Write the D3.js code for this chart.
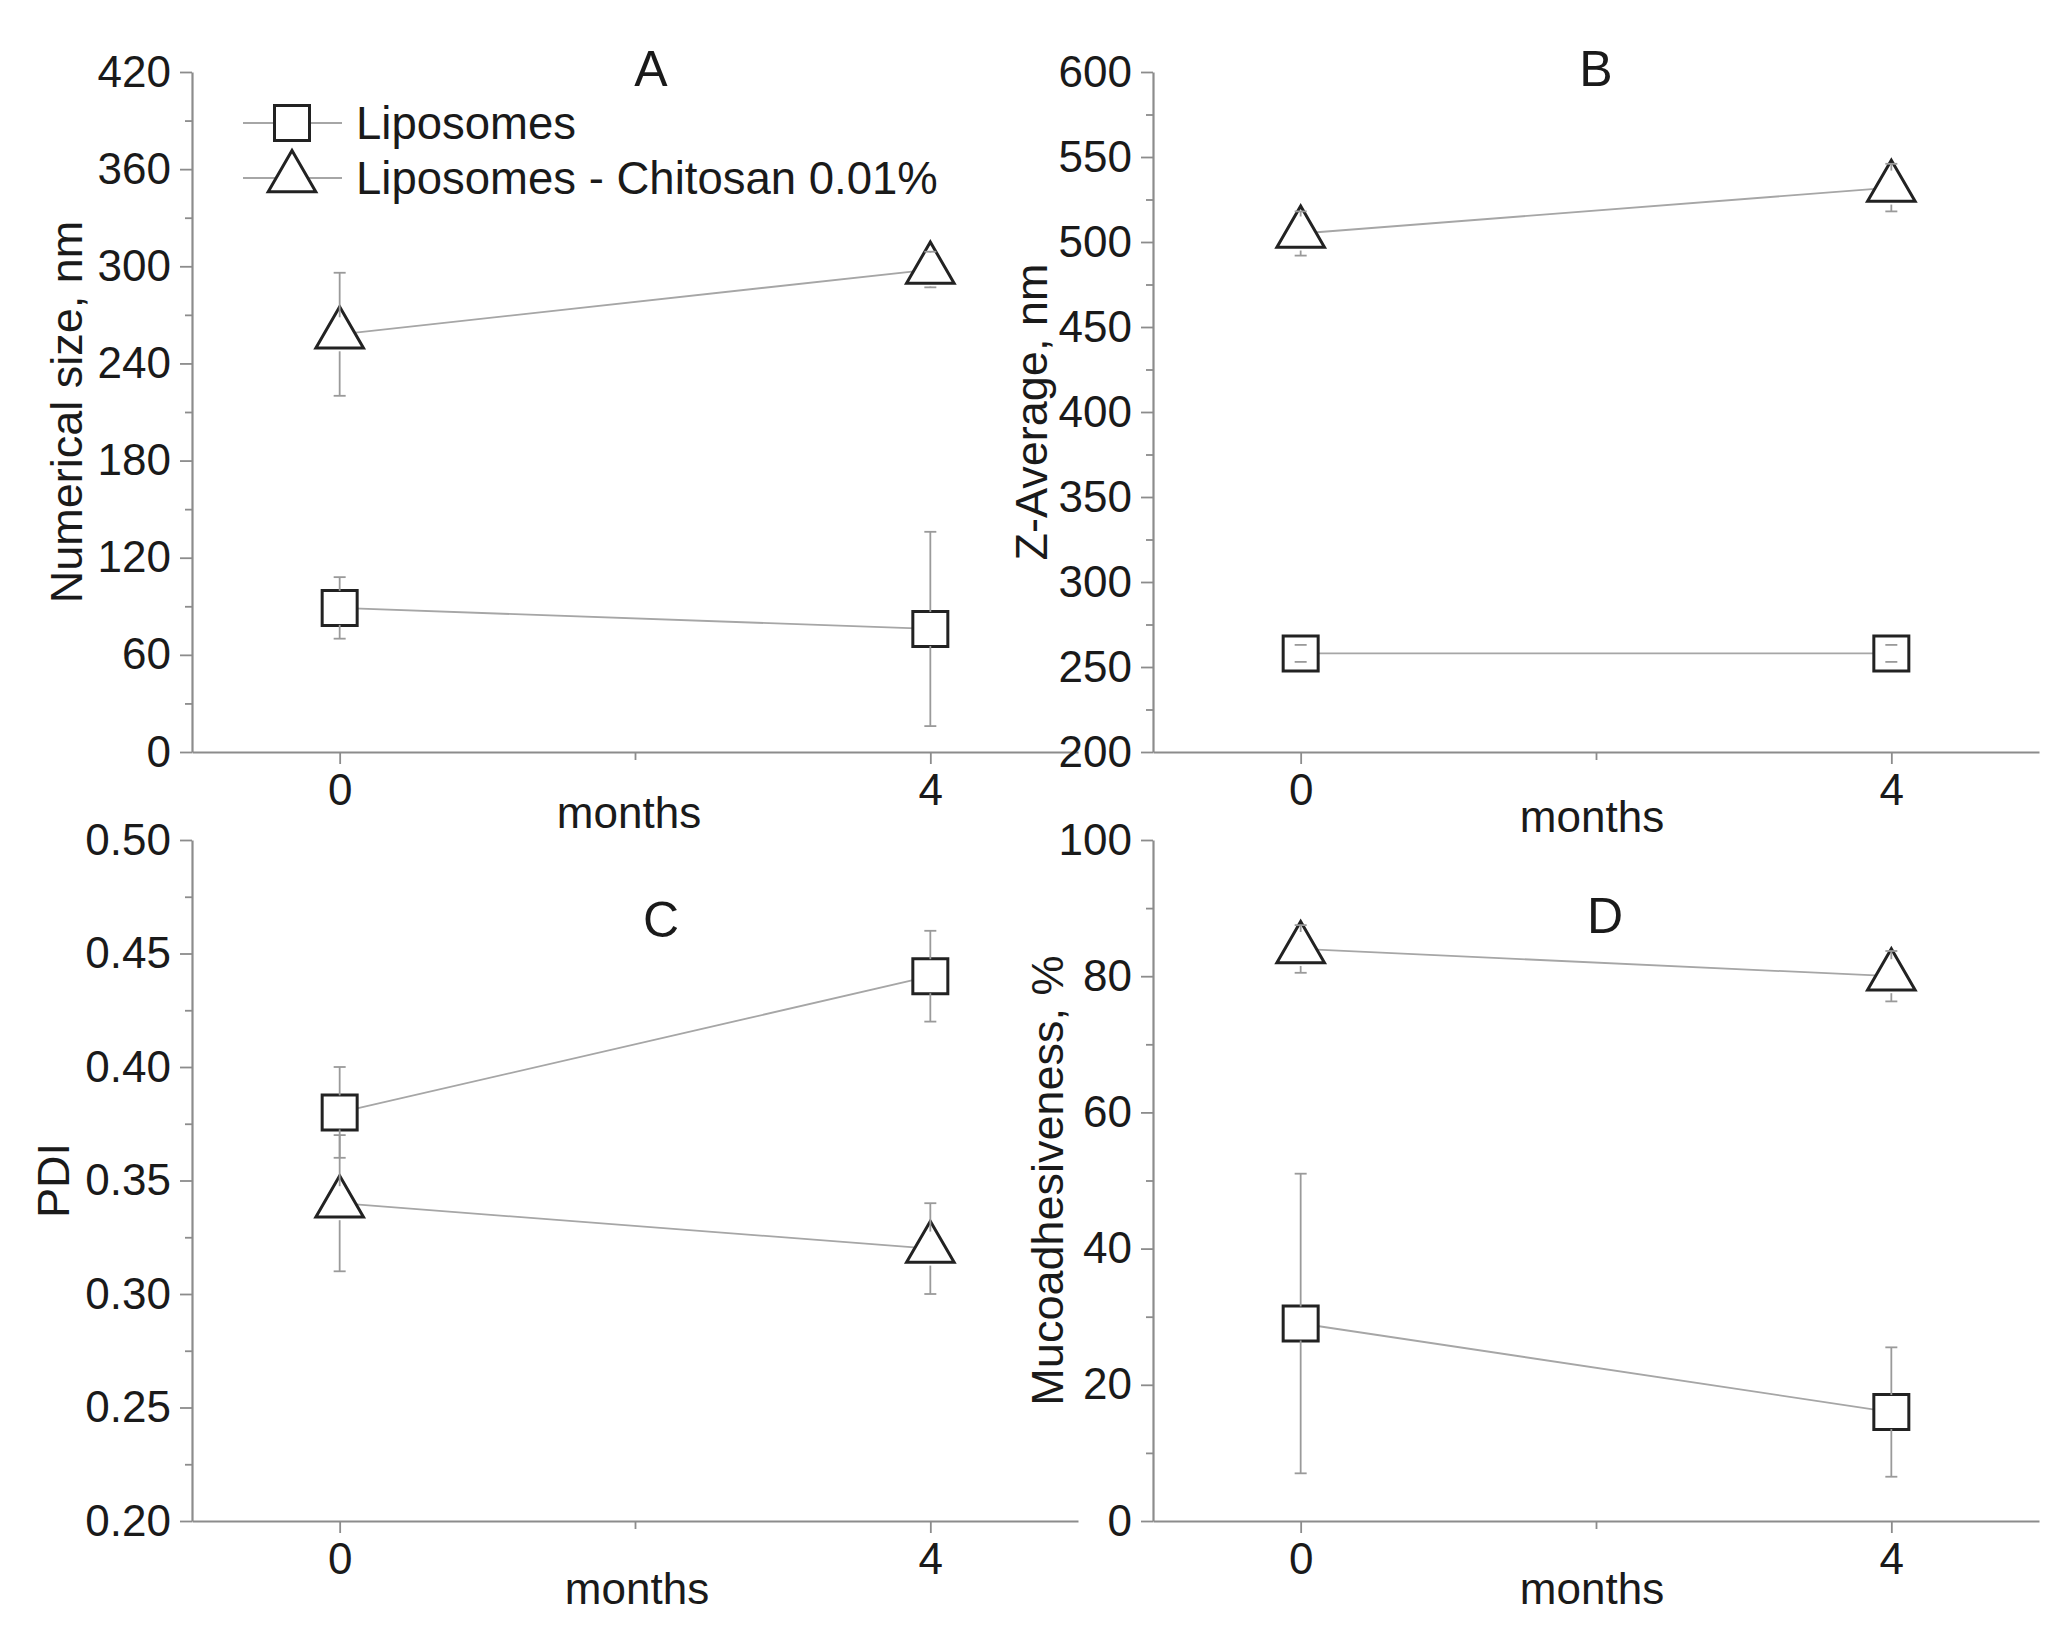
<!DOCTYPE html>
<html>
<head>
<meta charset="utf-8">
<script src="https://cdn.jsdelivr.net/npm/d3@7"></script>
<style>
  html, body { margin: 0; padding: 0; background: #fff; }
  svg text { font-family: "Liberation Sans", Arial, sans-serif; fill: #1a1a1a; }
</style>
</head>
<body>
<div id="chart"></div>
<script>
// x values (months) and series
const months = [0, 4];
const seriesNames = ['Liposomes', 'Liposomes - Chitosan 0.01%'];

const sizeLipo = [89, 76],      sizeLipoErr = [19, 60];
const sizeChito = [258, 298],   sizeChitoErr = [38, 11];
const zLipo = [258, 258],       zLipoErr = [5, 5];
const zChito = [505, 532],      zChitoErr = [13, 14];
const pdiLipo = [0.38, 0.44],   pdiLipoErr = [0.02, 0.02];
const pdiChito = [0.34, 0.32],  pdiChitoErr = [0.03, 0.02];
const mucoLipo = [29, 16],      mucoLipoErr = [22, 9.5];
const mucoChito = [84, 80],     mucoChitoErr = [3.5, 3.7];

const sizeTicks = [0, 60, 120, 180, 240, 300, 360, 420];
const zTicks = [200, 250, 300, 350, 400, 450, 500, 550, 600];
const pdiTicks = [0.20, 0.25, 0.30, 0.35, 0.40, 0.45, 0.50];
const mucoTicks = [0, 20, 40, 60, 80, 100];
const monthTicks = [0, 4];

const W = 2071, H = 1638;
const svg = d3.select('#chart').append('svg').attr('width', W).attr('height', H);

const panels = [
  { letter: 'A', title: 'Numerical size, nm', ticks: sizeTicks, fmt: d3.format('d'),
    lipo: sizeLipo, lipoErr: sizeLipoErr, chito: sizeChito, chitoErr: sizeChitoErr,
    left: 192, right: 1078, top: 72, bottom: 752, titleOff: 126,
    letterDx: 16, letterDy: -3, monthsDx: -6, monthsDy: 60, legend: true },
  { letter: 'B', title: 'Z-Average, nm', ticks: zTicks, fmt: d3.format('d'),
    lipo: zLipo, lipoErr: zLipoErr, chito: zChito, chitoErr: zChitoErr,
    left: 1153, right: 2039, top: 72, bottom: 752, titleOff: 122,
    letterDx: 0, letterDy: -3, monthsDx: -4, monthsDy: 64 },
  { letter: 'C', title: 'PDI', ticks: pdiTicks, fmt: d3.format('.2f'),
    lipo: pdiLipo, lipoErr: pdiLipoErr, chito: pdiChito, chitoErr: pdiChitoErr,
    left: 192, right: 1078, top: 840, bottom: 1521, titleOff: 139,
    letterDx: 26, letterDy: 80, monthsDx: 2, monthsDy: 67 },
  { letter: 'D', title: 'Mucoadhesiveness, %', ticks: mucoTicks, fmt: d3.format('d'),
    lipo: mucoLipo, lipoErr: mucoLipoErr, chito: mucoChito, chitoErr: mucoChitoErr,
    left: 1153, right: 2039, top: 840, bottom: 1521, titleOff: 106,
    letterDx: 9, letterDy: 76, monthsDx: -4, monthsDy: 67 }
];

const axisColor = '#8c8c8c';
const lineColor = '#a6a6a6';
const markStroke = '#222';
const squareSym = d3.symbol().type(d3.symbolSquare).size(35 * 35);
const triSym = d3.symbol().type(d3.symbolTriangle).size(980);

function drawMarker(g, type, cx, cy) {
  g.append('path')
    .attr('d', type === 'square' ? squareSym() : triSym())
    .attr('transform', `translate(${cx},${cy})`)
    .attr('fill', '#fff')
    .attr('stroke', markStroke)
    .attr('stroke-width', 3);
}

panels.forEach(p => {
  const g = svg.append('g');
  const x = d3.scaleLinear().domain([-1, 5]).range([p.left, p.right]);
  const y = d3.scaleLinear().domain([p.ticks[0], p.ticks[p.ticks.length - 1]]).range([p.bottom, p.top]);

  // y axis with minor ticks half way between majors
  const step = p.ticks[1] - p.ticks[0];
  const minor = p.ticks.slice(0, -1).map(t => t + step / 2);
  g.append('g').attr('transform', `translate(${p.left},0)`)
    .call(d3.axisLeft(y).tickValues(minor).tickSize(7).tickFormat(''))
    .call(a => a.select('.domain').remove());
  g.append('g').attr('transform', `translate(${p.left},0)`)
    .call(d3.axisLeft(y).tickValues(p.ticks).tickSize(12).tickSizeOuter(0).tickPadding(9).tickFormat(p.fmt));

  // x axis
  g.append('g').attr('transform', `translate(0,${p.bottom})`)
    .call(d3.axisBottom(x).tickValues([2]).tickSize(8).tickFormat(''))
    .call(a => a.select('.domain').remove());
  g.append('g').attr('transform', `translate(0,${p.bottom})`)
    .call(d3.axisBottom(x).tickValues(monthTicks).tickSize(12).tickSizeOuter(0).tickPadding(10).tickFormat(d3.format('d')));

  g.selectAll('.domain').attr('stroke', axisColor).attr('stroke-width', 2.2);
  g.selectAll('.tick line').attr('stroke', axisColor).attr('stroke-width', 1.8);
  g.selectAll('.tick text').attr('font-size', 44).attr('fill', '#1a1a1a')
    .style('font-family', '"Liberation Sans", Arial, sans-serif');

  // axis titles
  const my = (p.top + p.bottom) / 2;
  const mx = (p.left + p.right) / 2;
  g.append('text')
    .attr('transform', `translate(${p.left - p.titleOff},${my}) rotate(-90)`)
    .attr('text-anchor', 'middle').attr('dominant-baseline', 'central')
    .attr('font-size', 45).text(p.title);
  g.append('text')
    .attr('x', mx + p.monthsDx).attr('y', p.bottom + p.monthsDy)
    .attr('text-anchor', 'middle').attr('dominant-baseline', 'central')
    .attr('font-size', 44).text('months');
  g.append('text')
    .attr('x', mx + p.letterDx).attr('y', p.top + p.letterDy)
    .attr('text-anchor', 'middle').attr('dominant-baseline', 'central')
    .attr('font-size', 50).text(p.letter);

  const series = [
    { vals: p.lipo, errs: p.lipoErr, type: 'square', half: 17 },
    { vals: p.chito, errs: p.chitoErr, type: 'triangle', half: 17 }
  ];

  series.forEach(s => {
    const pts = months.map((m, i) => [x(m), y(s.vals[i])]);
    g.append('path')
      .attr('d', d3.line()(pts))
      .attr('fill', 'none').attr('stroke', lineColor).attr('stroke-width', 1.8);
  });

  series.forEach(s => {
    months.forEach((m, i) => drawMarker(g, s.type, x(m), y(s.vals[i])));
  });

  // error bars on top, kept outside the symbol
  series.forEach(s => {
    months.forEach((m, i) => {
      const cx = x(m), cy = y(s.vals[i]);
      const yt = y(s.vals[i] + s.errs[i]), yb = y(s.vals[i] - s.errs[i]);
      const eb = g.append('g').attr('stroke', '#9a9a9a').attr('stroke-width', 1.8);
      if (yt < cy - s.half) eb.append('line').attr('x1', cx).attr('x2', cx).attr('y1', yt).attr('y2', cy - s.half);
      if (yb > cy + s.half) eb.append('line').attr('x1', cx).attr('x2', cx).attr('y1', yb).attr('y2', cy + s.half);
      [yt, yb].forEach(yy => eb.append('line').attr('x1', cx - 6).attr('x2', cx + 6).attr('y1', yy).attr('y2', yy));
    });
  });

  if (p.legend) {
    const lg = g.append('g');
    seriesNames.forEach((name, i) => {
      const ly = 123 + i * 55;
      lg.append('line').attr('x1', 243).attr('x2', 342).attr('y1', ly).attr('y2', ly)
        .attr('stroke', lineColor).attr('stroke-width', 1.8);
      drawMarker(lg, i === 0 ? 'square' : 'triangle', 292, ly);
      lg.append('text').attr('x', 356).attr('y', ly)
        .attr('dominant-baseline', 'central').attr('font-size', 45.5).text(name);
    });
  }
});
</script>
</body>
</html>
